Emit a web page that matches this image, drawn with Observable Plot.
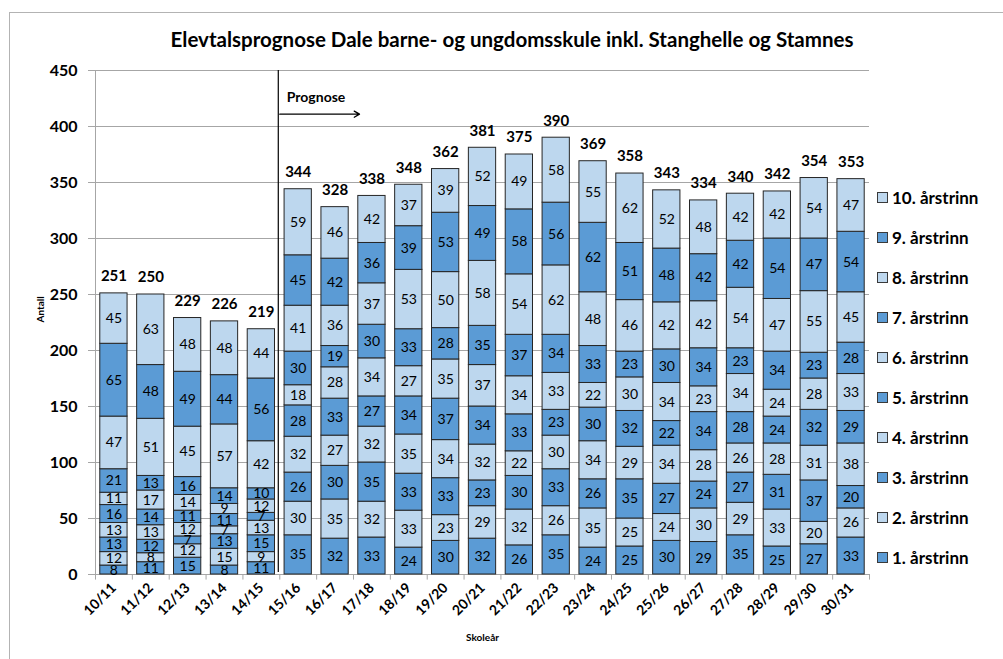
<!DOCTYPE html>
<html>
<head>
<meta charset="utf-8">
<script src="https://cdn.jsdelivr.net/npm/d3@7"></script>
<script src="https://cdn.jsdelivr.net/npm/@observablehq/plot@0.6"></script>
<style>
  html, body { margin: 0; padding: 0; background: #fff; }
  body { width: 1003px; height: 659px; overflow: hidden; position: relative; font-family: Lato, "Open Sans", sans-serif; }
  #frame { position: absolute; left: 9px; top: 12px; width: 994px; height: 647px; border-left: 1px solid #b3b3b3; border-top: 1px solid #b3b3b3; }
  #title { height: 46px; box-sizing: border-box; padding-top: 15px; padding-left: 10px; text-align: center; font-weight: bold; font-size: 20.5px; line-height: 22px; color: #000; }
  #chart { position: absolute; left: 0; top: 46px; }
  #legend { position: absolute; left: 867px; top: 164px; }
  .item { height: 40px; display: flex; align-items: center; font-weight: bold; font-size: 17px; color: #000; }
  .sw { width: 9px; height: 9px; border: 1px solid #3a3a3a; margin-right: 4px; }
</style>
</head>
<body>
<div id="frame">
  <div id="title">Elevtalsprognose Dale barne- og ungdomsskule inkl. Stanghelle og Stamnes</div>
  <div id="chart"></div>
  <div id="legend"></div>
</div>
<script>
const years = ["10/11","11/12","12/13","13/14","14/15","15/16","16/17","17/18","18/19","19/20","20/21","21/22","22/23","23/24","24/25","25/26","26/27","27/28","28/29","29/30","30/31"];
const series = ["1. årstrinn","2. årstrinn","3. årstrinn","4. årstrinn","5. årstrinn","6. årstrinn","7. årstrinn","8. årstrinn","9. årstrinn","10. årstrinn"];
const grade1  = [8,11,15,8,11,35,32,33,24,30,32,26,35,24,25,30,29,35,25,27,33];
const grade2  = [12,8,12,15,9,30,35,32,33,23,29,32,26,35,25,24,30,29,33,20,26];
const grade3  = [13,12,7,13,15,26,30,35,33,33,23,30,33,26,35,27,24,27,31,37,20];
const grade4  = [13,13,12,7,13,32,27,32,35,34,32,22,30,34,29,34,28,26,28,31,38];
const grade5  = [16,14,11,11,7,28,33,27,34,37,34,33,23,30,32,22,34,28,24,32,29];
const grade6  = [11,17,14,9,12,18,28,34,27,35,37,34,33,22,30,34,23,34,24,28,33];
const grade7  = [21,13,16,14,10,30,19,30,33,28,35,37,34,33,23,30,34,23,34,23,28];
const grade8  = [47,51,45,57,42,41,36,37,53,50,58,54,62,48,46,42,42,54,47,55,45];
const grade9  = [65,48,49,44,56,45,42,36,39,53,49,58,56,62,51,48,42,42,54,47,54];
const grade10 = [45,63,48,48,44,59,46,42,37,39,52,49,58,55,62,52,48,42,42,54,47];
const yTicks = [0,50,100,150,200,250,300,350,400,450];
const prognoseStart = "15/16";
const prognoseArrowEnd = "17/18";
const prognoseArrowY = 411;
const prognoseLabelY = 426;
const prognoseLabel = "Prognose";
const xTitle = "Skoleår";
const yTitle = "Antall";

const dark = "#5B9BD5", light = "#BDD7EE";
const colors = series.map((s, i) => i % 2 === 0 ? dark : light);

const grades = [grade1, grade2, grade3, grade4, grade5, grade6, grade7, grade8, grade9, grade10];
const data = [];
grades.forEach((arr, si) => arr.forEach((v, yi) => data.push({year: years[yi], series: series[si], value: v})));
const totals = years.map((y, i) => ({year: y, total: d3.sum(grades, g => g[i])}));

const W = 864, H = 593, mL = 85, mR = 5, mT = 11, mB = 78;
const step = (W - mL - mR) / years.length;

const chart = Plot.plot({
  width: W, height: H,
  marginLeft: mL, marginRight: mR, marginTop: mT, marginBottom: mB,
  style: {fontFamily: "Lato, 'Open Sans', sans-serif", color: "#000", background: "transparent"},
  x: {domain: years, paddingInner: 0.26, paddingOuter: 0.13, round: false, label: null},
  y: {domain: [0, 450], label: null},
  color: {domain: series, range: colors},
  marks: [
    Plot.gridY(yTicks, {stroke: "#a6a6a6", strokeOpacity: 1, insetLeft: -7}),
    Plot.frame({anchor: "left", stroke: "#a6a6a6"}),
    Plot.ruleX(years, {x: d => d, dx: step / 2, y1: 0, y2: -5, stroke: "#a6a6a6"}),
    Plot.ruleX([years[0]], {x: d => d, dx: -step / 2, y1: 0, y2: -5, stroke: "#a6a6a6"}),
    Plot.axisY(yTicks, {tickSize: 0, tickPadding: 18, fontSize: 16, fontWeight: "bold", label: null}),
    Plot.axisX({tickRotate: -45, tickSize: 0, tickPadding: 11, fontSize: 14, fontWeight: "bold", label: null}),
    Plot.barY(data, Plot.stackY({x: "year", y: "value", z: "series", fill: "series", stroke: "#262626", strokeWidth: 1})),
    Plot.text(data, Plot.stackY({x: "year", y: "value", z: "series", text: "value", fontSize: 14, fill: "#000"})),
    Plot.text(totals, {x: "year", y: "total", text: "total", dy: -17, fontSize: 15, fontWeight: "bold", fill: "#000"}),
    Plot.ruleX([prognoseStart], {x: d => d, dx: -step / 2 - 1.5, y1: 0, y2: 450, insetTop: -2, stroke: "#000", strokeWidth: 1.2}),
    Plot.arrow([prognoseStart], {x1: d => d, x2: () => prognoseArrowEnd, y1: () => prognoseArrowY, y2: () => prognoseArrowY, dx: -step / 2, insetEnd: -6, headLength: 7, stroke: "#000", strokeWidth: 1.3}),
    Plot.text([prognoseLabel], {x: () => prognoseStart, y: () => prognoseLabelY, text: d => d, dx: -step / 2 + 7, textAnchor: "start", fontSize: 14, fontWeight: "bold", fill: "#000"}),
    Plot.text([xTitle], {frameAnchor: "bottom", text: d => d, dy: 66, fontSize: 10, fontWeight: "bold", fill: "#000"}),
    Plot.text([yTitle], {frameAnchor: "left", text: d => d, rotate: -90, dx: -55, fontSize: 10, fontWeight: "bold", fill: "#000"})
  ]
});
document.getElementById("chart").appendChild(chart);

const legend = document.getElementById("legend");
series.slice().reverse().forEach(s => {
  const item = document.createElement("div");
  item.className = "item";
  const sw = document.createElement("span");
  sw.className = "sw";
  sw.style.background = colors[series.indexOf(s)];
  item.appendChild(sw);
  item.appendChild(document.createTextNode(s));
  legend.appendChild(item);
});
</script>
</body>
</html>
